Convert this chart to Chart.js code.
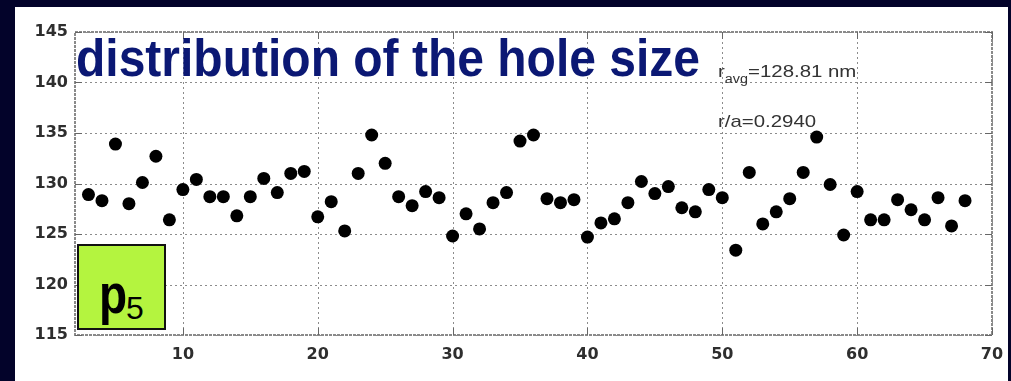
<!DOCTYPE html>
<html>
<head>
<meta charset="utf-8">
<script src="https://cdn.jsdelivr.net/npm/chart.js@4"></script>
<style>
  html, body { margin:0; padding:0; background:#03032a; width:1011px; height:381px; overflow:hidden; }
  #panel { position:absolute; left:15px; top:7px; width:993px; height:374px; background:#ffffff; }
  #wrap { position:absolute; left:0; top:0; width:1011px; height:381px; }
  #title { position:absolute; left:76px; top:33px; font-family:"Liberation Sans", Arial, sans-serif; font-weight:bold; font-size:48px; color:#0b1874; transform:scaleY(1.08); transform-origin:left top; white-space:nowrap; line-height:1; }
  .note { position:absolute; font-family:"Liberation Sans", Arial, sans-serif; font-size:17px; color:#333; white-space:nowrap; line-height:1; transform:scaleX(1.2); transform-origin:left top; }
  .note sub { font-size:12px; vertical-align:-6px; }
  #pbox { position:absolute; left:77px; top:244px; width:85px; height:82px; background:#b4f43f; border:2px solid #111; }
  #pbox .p { position:absolute; left:20px; top:20px; font-family:"Liberation Sans", Arial, sans-serif; font-weight:bold; font-size:46px; color:#000; transform:scaleY(1.2); transform-origin:left top; line-height:1; }
  #pbox .n { position:absolute; left:47px; top:46px; font-family:"Liberation Sans", Arial, sans-serif; font-size:32px; color:#000; line-height:1; }
</style>
</head>
<body>
<div id="panel"></div>
<div id="wrap"><canvas id="c" width="1011" height="381"></canvas></div>
<div id="title">distribution of the hole size</div>
<div class="note" style="left:718px; top:63px;">r<sub>avg</sub>=128.81 nm</div>
<div class="note" style="left:718px; top:113px;">r/a=0.2940</div>
<div id="pbox"><span class="p">p</span><span class="n">5</span></div>
<script>
const holeIndex = [3,4,5,6,7,8,9,10,11,12,13,14,15,16,17,18,19,20,21,22,23,24,25,26,27,28,29,30,31,32,33,34,35,36,37,38,39,40,41,42,43,44,45,46,47,48,49,50,51,52,53,54,55,56,57,58,59,60,61,62,63,64,65,66,67,68];
const holeSize = [128.9,128.3,133.9,128.0,130.1,132.7,126.4,129.4,130.4,128.7,128.7,126.8,128.7,130.5,129.1,131.0,131.2,126.7,128.2,125.3,131.0,134.8,132.0,128.7,127.8,129.2,128.6,124.8,127.0,125.5,128.1,129.1,134.2,134.8,128.5,128.1,128.4,124.7,126.1,126.5,128.1,130.2,129.0,129.7,127.6,127.2,129.4,128.6,123.4,131.1,126.0,127.2,128.5,131.1,134.6,129.9,124.9,129.2,126.4,126.4,128.4,127.4,126.4,128.6,125.8,128.3];
const xTicks = [10,20,30,40,50,60,70];
const yTicks = [115,120,125,130,135,140,145];

const points = holeIndex.map((x,i)=>({x:x, y:holeSize[i]}));

const gridPlugin = {
  id:'dottedGrid',
  beforeDatasetsDraw(chart){
    const {ctx, chartArea:a, scales} = chart;
    ctx.save();
    ctx.strokeStyle = '#8c8c8c';
    ctx.lineWidth = 1;
    ctx.setLineDash([2,3]);
    ctx.beginPath();
    xTicks.forEach(v=>{
      const px = Math.round(scales.x.getPixelForValue(v))+0.5;
      ctx.moveTo(px, a.top); ctx.lineTo(px, a.bottom);
    });
    yTicks.forEach(v=>{
      const py = Math.round(scales.y.getPixelForValue(v))+0.5;
      ctx.moveTo(a.left, py); ctx.lineTo(a.right, py);
    });
    ctx.stroke();
    ctx.restore();
  }
};

const framePlugin = {
  id:'frame',
  afterDatasetsDraw(chart){
    const {ctx, chartArea:a, scales} = chart;
    ctx.save();
    ctx.strokeStyle = '#8a8a8a';
    ctx.lineWidth = 2;
    ctx.setLineDash([3,1]);
    ctx.strokeRect(a.left, a.top, a.right-a.left, a.bottom-a.top);
    ctx.setLineDash([]);
    ctx.lineWidth = 1;
    ctx.strokeStyle = '#666';
    ctx.beginPath();
    xTicks.forEach(v=>{
      const px = Math.round(scales.x.getPixelForValue(v))+0.5;
      ctx.moveTo(px, a.bottom); ctx.lineTo(px, a.bottom-7);
      ctx.moveTo(px, a.top); ctx.lineTo(px, a.top+7);
    });
    yTicks.forEach(v=>{
      const py = Math.round(scales.y.getPixelForValue(v))+0.5;
      ctx.moveTo(a.left, py); ctx.lineTo(a.left+7, py);
      ctx.moveTo(a.right, py); ctx.lineTo(a.right-7, py);
    });
    ctx.stroke();
    ctx.restore();
  }
};

new Chart(document.getElementById('c'), {
  type:'scatter',
  data:{ datasets:[{ data:points, backgroundColor:'#000', borderColor:'#000', pointRadius:6.5, pointHoverRadius:6.5, borderWidth:0 }] },
  options:{
    responsive:false, animation:false,
    layout:{ padding:{ left:0, top:32, right:19, bottom:0 } },
    plugins:{ legend:{display:false}, tooltip:{enabled:false} },
    scales:{
      x:{
        type:'linear', min:2, max:70,
        afterBuildTicks(s){ s.ticks = xTicks.map(v=>({value:v})); },
        afterFit(s){ s.height = 46; s.paddingRight = 0; s.paddingLeft = 0; },
        grid:{ display:false, tickLength:0 },
        border:{ display:false },
        ticks:{ color:'#2e2e2e', font:{ family:'DejaVu Sans', size:16, weight:'bold' }, padding:10, maxRotation:0, autoSkip:false }
      },
      y:{
        type:'linear', min:115, max:145,
        afterBuildTicks(s){ s.ticks = yTicks.map(v=>({value:v})); },
        afterFit(s){ s.width = 75; s.paddingTop = 0; s.paddingBottom = 0; },
        grid:{ display:false, tickLength:0 },
        border:{ display:false },
        ticks:{ color:'#2e2e2e', font:{ family:'DejaVu Sans', size:16, weight:'bold' }, padding:7, autoSkip:false }
      }
    }
  },
  plugins:[gridPlugin, framePlugin]
});
</script>
</body>
</html>
